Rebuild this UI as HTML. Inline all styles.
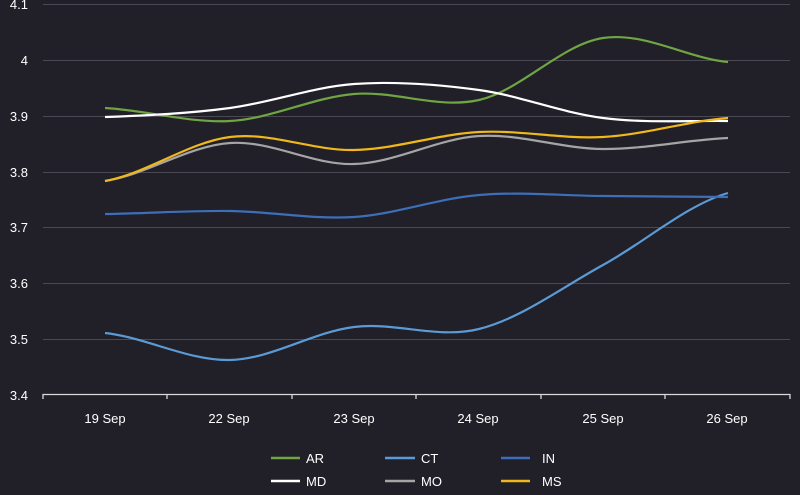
<!DOCTYPE html><html><head><style>body{margin:0;background:#211f28}svg{display:block}text{font-family:"Liberation Sans",sans-serif;fill:#fff;font-size:13px}</style></head><body>
<svg width="800" height="495" viewBox="0 0 800 495">
<rect width="800" height="495" fill="#211f28"/>
<g stroke="#4a4852" stroke-width="1">
<line x1="43" x2="790" y1="4.5" y2="4.5"/><line x1="43" x2="790" y1="60.5" y2="60.5"/><line x1="43" x2="790" y1="116.5" y2="116.5"/><line x1="43" x2="790" y1="172.5" y2="172.5"/><line x1="43" x2="790" y1="227.5" y2="227.5"/><line x1="43" x2="790" y1="283.5" y2="283.5"/><line x1="43" x2="790" y1="339.5" y2="339.5"/></g>
<g stroke="#d9d9d9" stroke-width="1.3" fill="none"><path d="M43 399V394.5H790V399M167 394v5M292 394v5M416 394v5M541 394v5M665 394v5"/></g>
<g text-anchor="end"><text x="28" y="9">4.1</text><text x="28" y="65">4</text><text x="28" y="121">3.9</text><text x="28" y="177">3.8</text><text x="28" y="232">3.7</text><text x="28" y="288">3.6</text><text x="28" y="344">3.5</text><text x="28" y="400">3.4</text></g>
<g text-anchor="middle"><text x="105" y="423">19 Sep</text><text x="229" y="423">22 Sep</text><text x="354" y="423">23 Sep</text><text x="478" y="423">24 Sep</text><text x="603" y="423">25 Sep</text><text x="727" y="423">26 Sep</text></g>
<g fill="none" stroke-width="2.2">
<path stroke="#6fa543" d="M105 108C146.5 110.2 188.5 123.3 230 121C271.5 118.7 312.5 97.5 354 94C395.5 90.5 437.5 109.3 479 100C520.5 90.7 561.5 44.3 603 38C644.5 31.7 686.5 58 728 62"/>
<path stroke="#5b9bd5" d="M105 333C146.5 337.5 188.5 361 230 360C271.5 359 312.5 332.2 354 327C395.5 321.8 437.5 339.3 479 329C520.5 318.7 561.5 287.7 603 265C644.5 242.3 686.5 205 728 193"/>
<path stroke="#3d6fb8" d="M105 214C146.5 213.5 188.5 210.5 230 211C271.5 211.5 312.5 219.7 354 217C395.5 214.3 437.5 198.5 479 195C520.5 191.5 561.5 195.7 603 196C644.5 196.3 686.5 196.8 728 197"/>
<path stroke="#ffffff" d="M105 117C146.5 115.5 188.5 113.5 230 108C271.5 102.5 312.5 87 354 84C395.5 81 437.5 84.3 479 90C520.5 95.7 561.5 112.8 603 118C644.5 123.2 686.5 120.5 728 121"/>
<path stroke="#a5a5a5" d="M105 181C146.5 174.7 188.5 145.8 230 143C271.5 140.2 312.5 165.2 354 164C395.5 162.8 437.5 138.5 479 136C520.5 133.5 561.5 148.7 603 149C644.5 149.3 686.5 139.8 728 138"/>
<path stroke="#f0b81c" d="M105 181C146.5 173.7 188.5 142.2 230 137C271.5 131.8 312.5 150.8 354 150C395.5 149.2 437.5 134.2 479 132C520.5 129.8 561.5 139.3 603 137C644.5 134.7 686.5 121.2 728 118"/>
</g>
<g stroke-width="2.5"><line x1="271" x2="300" y1="458" y2="458" stroke="#6fa543"/><line x1="385" x2="415" y1="458" y2="458" stroke="#5b9bd5"/><line x1="501" x2="530" y1="458" y2="458" stroke="#3d6fb8"/>
<line x1="271" x2="300" y1="481" y2="481" stroke="#fff"/><line x1="385" x2="415" y1="481" y2="481" stroke="#a5a5a5"/><line x1="501" x2="530" y1="481" y2="481" stroke="#f0b81c"/></g>
<text x="306" y="463">AR</text><text x="421" y="463">CT</text><text x="542" y="463">IN</text>
<text x="306" y="486">MD</text><text x="421" y="486">MO</text><text x="542" y="486">MS</text>
</svg></body></html>
